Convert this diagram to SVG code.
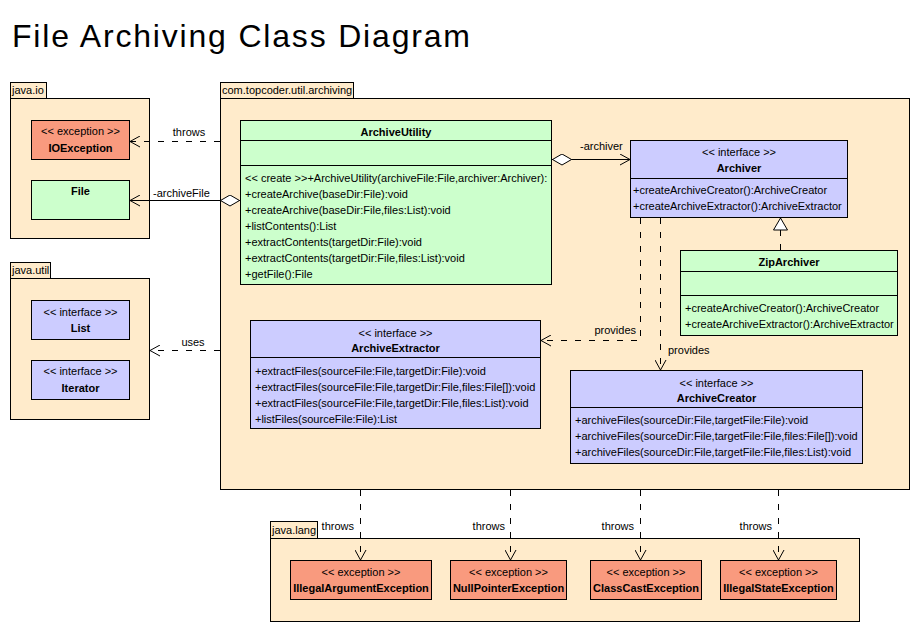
<svg xmlns="http://www.w3.org/2000/svg" width="920" height="630" viewBox="0 0 920 630">
<style>
text{font-family:"Liberation Sans",Arial,sans-serif;font-size:11px;fill:#000}
.title{font-size:32px}
.b{font-weight:bold}
.m{text-anchor:middle}
.e{text-anchor:end}
.pkg{fill:#FFEBCB;stroke:#000;stroke-width:1}
.cls{fill:#CCFFCC;stroke:#000;stroke-width:1}
.ifc{fill:#CCCCFF;stroke:#000;stroke-width:1}
.exc{fill:#F99A7E;stroke:#000;stroke-width:1}
.sep{stroke:#000;stroke-width:1}
.solid{fill:none;stroke:#000;stroke-width:1}
.dash{fill:none;stroke:#000;stroke-width:1;stroke-dasharray:6 8}
</style>
<defs>
<marker id="open" viewBox="0 0 12 12" refX="11" refY="6" markerWidth="12" markerHeight="12" markerUnits="userSpaceOnUse" orient="auto">
<path d="M1,0.5 L11,6 L1,11.5" fill="none" stroke="#000" stroke-width="1" stroke-dasharray="none"/>
</marker>
<marker id="diamond" viewBox="0 0 20 12" refX="0" refY="6" markerWidth="20" markerHeight="12" markerUnits="userSpaceOnUse" orient="auto">
<path d="M0.5,6 L10,0.5 L19.5,6 L10,11.5 Z" fill="#fff" stroke="#000" stroke-width="1" stroke-dasharray="none"/>
</marker>
<marker id="tri" viewBox="0 0 13 15" refX="12.5" refY="7.5" markerWidth="13" markerHeight="15" markerUnits="userSpaceOnUse" orient="auto">
<path d="M0.5,0.5 L12.5,7.5 L0.5,14.5 Z" fill="#fff" stroke="#000" stroke-width="1" stroke-dasharray="none"/>
</marker>
</defs>
<rect width="920" height="630" fill="#fff"/>
<text class="title" x="12" y="47" textLength="458" lengthAdjust="spacing">File Archiving Class Diagram</text>

<g id="pkg-java-io">
<rect class="pkg" x="10.5" y="82.5" width="36" height="16"/>
<text x="12" y="94">java.io</text>
<rect class="pkg" x="10.5" y="98.5" width="139" height="140"/>
</g>
<g id="pkg-archiving">
<rect class="pkg" x="220.5" y="82.5" width="133" height="16"/>
<text x="222" y="94">com.topcoder.util.archiving</text>
<rect class="pkg" x="220.5" y="98.5" width="689" height="391"/>
</g>
<g id="pkg-java-util">
<rect class="pkg" x="10.5" y="262.5" width="40" height="16"/>
<text x="12" y="274">java.util</text>
<rect class="pkg" x="10.5" y="278.5" width="139" height="141"/>
</g>
<g id="pkg-java-lang">
<rect class="pkg" x="270.5" y="521.5" width="47" height="17"/>
<text x="272" y="534">java.lang</text>
<rect class="pkg" x="270.5" y="538.5" width="589" height="83"/>
</g>

<g id="IOException">
<rect class="exc" x="31.5" y="120.5" width="98" height="39"/>
<text class="m" x="80.5" y="135">&lt;&lt; exception &gt;&gt;</text>
<text class="m b" x="80.5" y="151.5">IOException</text>
</g>
<g id="File">
<rect class="cls" x="31.5" y="180.5" width="98" height="39"/>
<text class="m b" x="80.5" y="195">File</text>
</g>
<g id="List">
<rect class="ifc" x="31.5" y="300.5" width="98" height="39"/>
<text class="m" x="80.5" y="315.5">&lt;&lt; interface &gt;&gt;</text>
<text class="m b" x="80.5" y="332">List</text>
</g>
<g id="Iterator">
<rect class="ifc" x="31.5" y="360.5" width="98" height="39"/>
<text class="m" x="80.5" y="374.5">&lt;&lt; interface &gt;&gt;</text>
<text class="m b" x="80.5" y="391.5">Iterator</text>
</g>

<g id="ArchiveUtility">
<rect class="cls" x="240.5" y="120.5" width="311" height="164"/>
<line class="sep" x1="240.5" y1="140.5" x2="551.5" y2="140.5"/>
<line class="sep" x1="240.5" y1="165.5" x2="551.5" y2="165.5"/>
<text class="m b" x="396" y="135.5">ArchiveUtility</text>
<text x="245" y="182">&lt;&lt; create &gt;&gt;+ArchiveUtility(archiveFile:File,archiver:Archiver):</text>
<text x="245" y="198">+createArchive(baseDir:File):void</text>
<text x="245" y="214">+createArchive(baseDir:File,files:List):void</text>
<text x="245" y="230">+listContents():List</text>
<text x="245" y="246">+extractContents(targetDir:File):void</text>
<text x="245" y="262">+extractContents(targetDir:File,files:List):void</text>
<text x="245" y="278">+getFile():File</text>
</g>

<g id="Archiver">
<rect class="ifc" x="630.5" y="140.5" width="217" height="77"/>
<line class="sep" x1="630.5" y1="178.5" x2="847.5" y2="178.5"/>
<text class="m" x="739" y="155.5">&lt;&lt; interface &gt;&gt;</text>
<text class="m b" x="739" y="172">Archiver</text>
<text x="633" y="194">+createArchiveCreator():ArchiveCreator</text>
<text x="633" y="210">+createArchiveExtractor():ArchiveExtractor</text>
</g>

<g id="ZipArchiver">
<rect class="cls" x="680.5" y="250.5" width="217" height="85"/>
<line class="sep" x1="680.5" y1="271.5" x2="897.5" y2="271.5"/>
<line class="sep" x1="680.5" y1="295.5" x2="897.5" y2="295.5"/>
<text class="m b" x="789" y="266">ZipArchiver</text>
<text x="685" y="312">+createArchiveCreator():ArchiveCreator</text>
<text x="685" y="328">+createArchiveExtractor():ArchiveExtractor</text>
</g>

<g id="ArchiveExtractor">
<rect class="ifc" x="250.5" y="320.5" width="290" height="108"/>
<line class="sep" x1="250.5" y1="357.5" x2="540.5" y2="357.5"/>
<text class="m" x="395.5" y="336.5">&lt;&lt; interface &gt;&gt;</text>
<text class="m b" x="395.5" y="352">ArchiveExtractor</text>
<text x="255" y="375">+extractFiles(sourceFile:File,targetDir:File):void</text>
<text x="255" y="391">+extractFiles(sourceFile:File,targetDir:File,files:File[]):void</text>
<text x="255" y="407">+extractFiles(sourceFile:File,targetDir:File,files:List):void</text>
<text x="255" y="423">+listFiles(sourceFile:File):List</text>
</g>

<g id="ArchiveCreator">
<rect class="ifc" x="570.5" y="370.5" width="292" height="93"/>
<line class="sep" x1="570.5" y1="407.5" x2="862.5" y2="407.5"/>
<text class="m" x="716.5" y="386.5">&lt;&lt; interface &gt;&gt;</text>
<text class="m b" x="716.5" y="402">ArchiveCreator</text>
<text x="575" y="424">+archiveFiles(sourceDir:File,targetFile:File):void</text>
<text x="575" y="440">+archiveFiles(sourceDir:File,targetFile:File,files:File[]):void</text>
<text x="575" y="456">+archiveFiles(sourceDir:File,targetFile:File,files:List):void</text>
</g>

<g id="IllegalArgumentException">
<rect class="exc" x="290.5" y="560.5" width="141" height="39"/>
<text class="m" x="361" y="575.5">&lt;&lt; exception &gt;&gt;</text>
<text class="m b" x="361" y="592">IllegalArgumentException</text>
</g>
<g id="NullPointerException">
<rect class="exc" x="450.5" y="560.5" width="116" height="39"/>
<text class="m" x="508.5" y="575.5">&lt;&lt; exception &gt;&gt;</text>
<text class="m b" x="508.5" y="592">NullPointerException</text>
</g>
<g id="ClassCastException">
<rect class="exc" x="590.5" y="560.5" width="111" height="39"/>
<text class="m" x="646" y="575.5">&lt;&lt; exception &gt;&gt;</text>
<text class="m b" x="646" y="592">ClassCastException</text>
</g>
<g id="IllegalStateException">
<rect class="exc" x="720.5" y="560.5" width="116" height="39"/>
<text class="m" x="778.5" y="575.5">&lt;&lt; exception &gt;&gt;</text>
<text class="m b" x="778.5" y="592">IllegalStateException</text>
</g>

<g id="connectors">
<path class="dash" d="M220,141.5 L130,141.5" marker-end="url(#open)"/>
<text class="m" x="189" y="136">throws</text>
<path class="solid" d="M240,200.5 L130,200.5" marker-start="url(#diamond)" marker-end="url(#open)"/>
<text x="153" y="197">-archiveFile</text>
<path class="dash" d="M220,350.5 L150,350.5" marker-end="url(#open)"/>
<text class="m" x="193" y="346">uses</text>
<path class="solid" d="M552,159.5 L630,159.5" marker-start="url(#diamond)" marker-end="url(#open)"/>
<text x="580" y="149.5">-archiver</text>
<path class="dash" d="M780.5,250 L780.5,218" marker-end="url(#tri)"/>
<path class="dash" d="M640.5,218 L640.5,340.5 L541,340.5" marker-end="url(#open)"/>
<text class="e" x="636" y="334">provides</text>
<path class="dash" d="M660.5,218 L660.5,370" marker-end="url(#open)"/>
<text x="668" y="354">provides</text>
<path class="dash" d="M360.5,490 L360.5,560" marker-end="url(#open)"/>
<text class="e" x="354" y="529.5">throws</text>
<path class="dash" d="M510.5,490 L510.5,560" marker-end="url(#open)"/>
<text class="e" x="505" y="529.5">throws</text>
<path class="dash" d="M640.5,490 L640.5,560" marker-end="url(#open)"/>
<text class="e" x="634" y="529.5">throws</text>
<path class="dash" d="M778.5,490 L778.5,560" marker-end="url(#open)"/>
<text class="e" x="772" y="529.5">throws</text>
</g>
</svg>
